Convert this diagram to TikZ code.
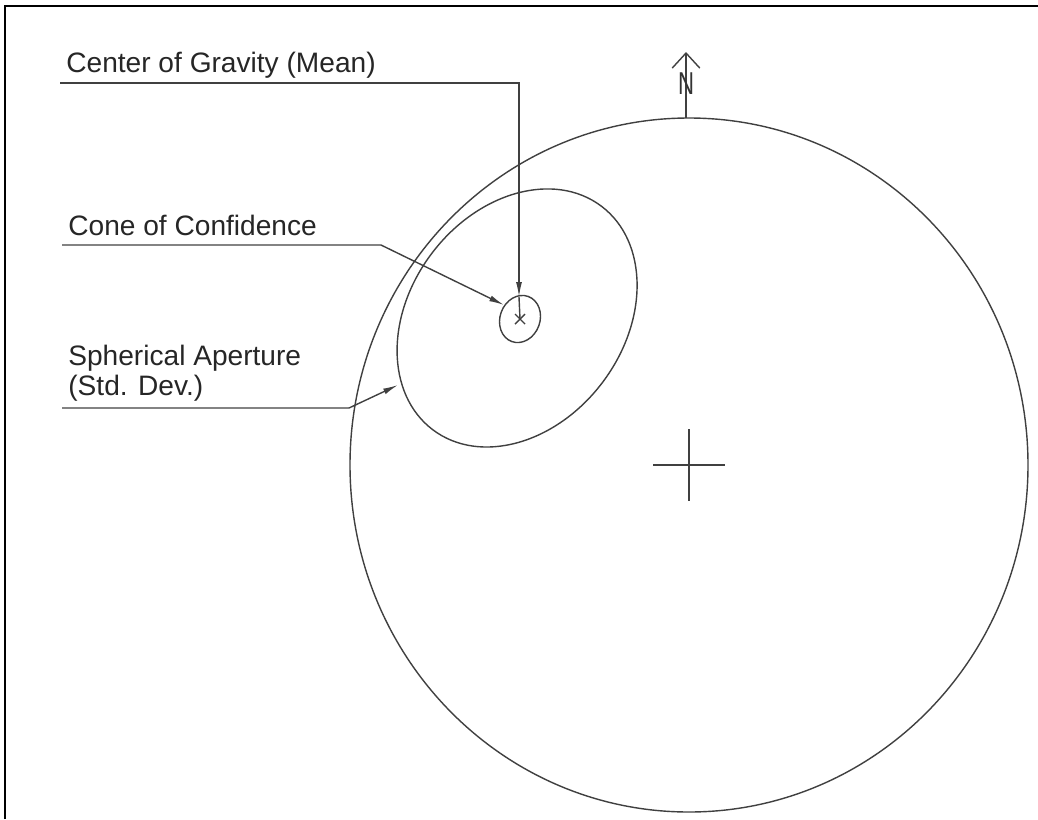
\documentclass[tikz,border=0pt]{standalone}
\usepackage{fontspec}
\setmainfont{Liberation Sans}
\usetikzlibrary{positioning,arrows.meta}

\begin{document}
\begin{tikzpicture}[
  x=0.02cm, y=-0.02cm,
  font=\fontsize{16pt}{19pt}\selectfont,
  lbl/.style={anchor=base west, inner sep=0pt, text=black!85},
  thin/.style={draw=black!75, line width=0.8pt},
  lead/.style={thin, -{Latex[length=3mm,width=1.2mm]}},
  frame/.style={draw=black, line width=1.7pt}
]
\useasboundingbox (0,0) rectangle (1038,819);
\draw[frame] (5,819) -- (5,6) -- (1038,6);

% sphere, apertures and mean
\coordinate (pole) at (689,465);
\coordinate (cone) at (517,318);
\coordinate (mean) at (520,319);
\draw[thin] (pole) ellipse [x radius=339, y radius=347];
\draw[thin] (pole) +(-36,0) -- +(36,0) (pole) +(0,-36) -- +(0,36);
\draw[thin, rotate around={53:(cone)}] (cone) ellipse [x radius=140, y radius=107];
\draw[thin, rotate around={70:(mean)}] (mean) ellipse [x radius=24, y radius=20];
\draw[thin] (mean) +(-5,-5) -- +(5,5) (mean) +(-5,5) -- +(5,-5);

% north
\coordinate (ntop) at (686,118);
\coordinate (ntip) at (686,52);
\draw[thin, -{Straight Barb[length=3mm,width=5.5mm]}] (ntop) -- (ntip);
\node[inner sep=0pt, font=\fontsize{18pt}{18pt}\selectfont, text=black!80] (north) at (686,84) {\scalebox{0.7}[1]{N}};

% labels
\node[lbl] (cog)   at (66,72)  {Center of Gravity (Mean)};
\node[lbl] (conf)  at (68,235) {Cone of Confidence};
\node[lbl] (aper)  at (68,365) {Spherical Aperture};
\node[lbl] (aperb) at (68,395) {(Std. Dev.)};

% leaders
\coordinate (cogA)  at (60,83);
\coordinate (cogB)  at (519,83);
\coordinate (meanT) at (519,297);
\coordinate (confA) at (62,245);
\coordinate (confB) at (381,245);
\coordinate (confT) at (504,305);
\coordinate (aperA) at (62,408);
\coordinate (aperB) at (349,408);
\coordinate (aperT) at (398,385);
\draw[lead] (cogA) -- (cogB) -- (meanT);
\draw[thin] (meanT) -- (mean);
\draw[lead] (confA) -- (confB) -- (confT);
\draw[lead] (aperA) -- (aperB) -- (aperT);
\end{tikzpicture}
\end{document}
